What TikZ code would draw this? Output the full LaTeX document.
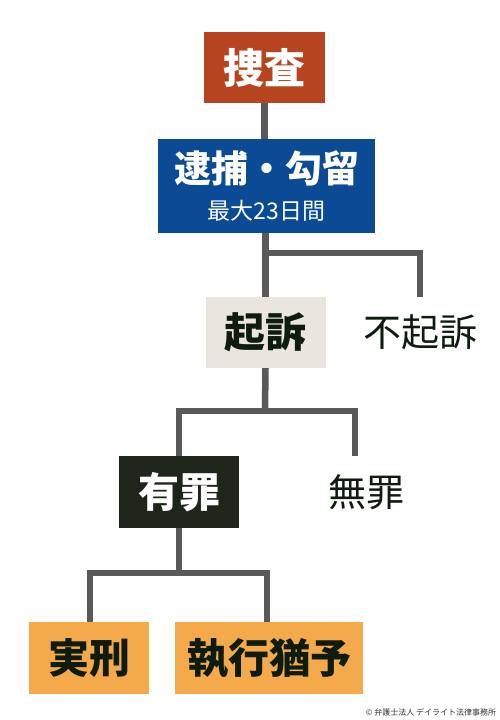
\documentclass[tikz,border=0pt]{standalone}
\usepackage{fontspec}
\newfontfamily\jp{Noto Sans CJK JP}
\definecolor{sousared}{HTML}{B5441F}
\definecolor{taihoblue}{HTML}{0B4B96}
\definecolor{kisobeige}{HTML}{EAE5DF}
\definecolor{yuzaidark}{HTML}{1E261C}
\definecolor{keiorange}{HTML}{F4AA4A}
\definecolor{linegray}{HTML}{5A585A}
\definecolor{textdark}{HTML}{0E1C0E}
\begin{document}
\begin{tikzpicture}[x=1pt,y=1pt,
  box/.style={inner sep=0pt, minimum height=71pt, align=center, font=\jp\bfseries\fontsize{41}{46}\selectfont},
  side/.style={inner sep=0pt, minimum width=120pt, minimum height=71pt, text=textdark, font=\jp\fontsize{38}{44}\selectfont},
  conn/.style={draw=linegray, line width=6.5pt, line join=miter}]
\useasboundingbox (0,0) rectangle (500,-720);
\node[box, fill=sousared, text=white, minimum width=121pt] (sousa) at (264.5,-67.5) {捜査};
\node[box, fill=taihoblue, text=white, minimum width=217pt, minimum height=94pt] (taiho) at (266.5,-186)
  {\fontsize{37}{40}\selectfont 逮捕・勾留\\[-9pt]{\jp\mdseries\fontsize{23}{26}\selectfont 最大23日間}};
\node[box, fill=kisobeige, text=textdark, minimum width=120pt] (kiso) at (265.5,-332.5) {起訴};
\node[side] (fukiso) at (420,-332.5) {不起訴};
\node[box, fill=yuzaidark, text=white, minimum width=120pt, minimum height=72pt] (yuzai) at (179,-492) {有罪};
\node[side] (muzai) at (366,-492) {無罪};
\node[box, fill=keiorange, text=textdark, minimum width=120pt, minimum height=72pt] (jikkei) at (89,-658) {実刑};
\node[box, fill=keiorange, text=textdark, minimum width=188pt, minimum height=72pt] (shikko) at (269,-658) {執行猶予};
\node[text=black!80, font=\jp\fontsize{8}{9}\selectfont] (credit) at (431,-712) {© 弁護士法人 デイライト法律事務所};
% junctions
\coordinate (j1) at (266,-253);
\coordinate (j2) at (265,-411);
\coordinate (j3) at (179,-573);
\draw[conn] (sousa) -- (sousa |- taiho.north);
\draw[conn] (kiso |- taiho.south) -- (kiso.north);
\draw[conn] (j1) -| (fukiso.north);
\draw[conn] (kiso.south) -- (j2);
\draw[conn] (yuzai.north) |- (j2) -| ([xshift=-11pt]muzai.north);
\draw[conn] (yuzai.south) -- (j3);
\draw[conn] ([xshift=1pt]jikkei.north) |- (j3) -| ([xshift=-2pt]shikko.north);
\end{tikzpicture}
\end{document}
